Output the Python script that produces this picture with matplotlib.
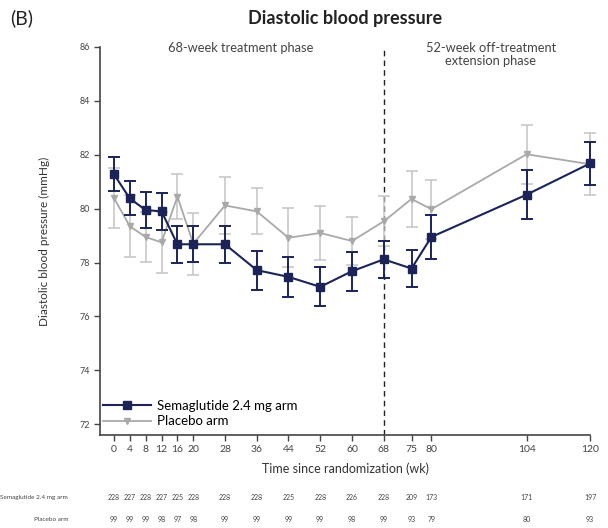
import numpy as np
import matplotlib.pyplot as plt
from matplotlib.lines import Line2D
from matplotlib.transforms import blended_transform_factory

plt.rcParams['font.family'] = ['Lato', 'DejaVu Sans']

weeks = [0, 4, 8, 12, 16, 20, 28, 36, 44, 52, 60, 68, 75, 80, 104, 120]

sema = [81.28, 80.38, 79.95, 79.9, 78.68, 78.68, 78.68, 77.72, 77.47, 77.1, 77.68, 78.12, 77.78, 78.95, 80.52, 81.68]
sema_err = [0.63, 0.63, 0.68, 0.68, 0.68, 0.66, 0.68, 0.72, 0.73, 0.72, 0.72, 0.68, 0.68, 0.8, 0.9, 0.8]

placebo = [80.4, 79.35, 78.95, 78.75, 80.45, 78.7, 80.12, 79.9, 78.92, 79.1, 78.8, 79.53, 80.36, 79.98, 82.02, 81.65]
placebo_err = [1.1, 1.15, 0.92, 1.12, 0.85, 1.15, 1.05, 0.85, 1.1, 1.0, 0.9, 0.93, 1.05, 1.1, 1.1, 1.15]

xtick_labels = ['0', '4', '8', '12', '16', '20', '28', '36', '44', '52', '60', '68', '75', '80', '104', '120']
yticks = [72, 74, 76, 78, 80, 82, 84, 86]

n_sema = [228, 227, 228, 227, 225, 228, 228, 228, 225, 228, 226, 228, 209, 173, 171, 197]
n_placebo = [99, 99, 99, 98, 97, 98, 99, 99, 99, 99, 98, 99, 93, 79, 80, 93]

navy = '#1c2457'
grey = '#a9a9a9'

fig = plt.figure(figsize=(6.08, 5.28), dpi=100)
ax = fig.add_axes([0.1645, 0.176, 0.806, 0.735])

ax.errorbar(weeks, placebo, yerr=placebo_err, color=grey, ecolor='#c4c4c4',
            marker='v', markersize=4, lw=1.3, elinewidth=1.1, capsize=4,
            capthick=1.1, zorder=2, clip_on=False)
ax.errorbar(weeks, sema, yerr=sema_err, color=navy, ecolor=navy,
            marker='s', markersize=6, lw=1.5, elinewidth=1.4, capsize=4,
            capthick=1.4, zorder=3, clip_on=False)

ax.axvline(68, color='#222222', ls=(0, (4, 3)), lw=1.0, zorder=1)

ax.set_xlim(-3.5, 120)
ax.set_ylim(71.6, 86)
ax.set_xticks(weeks)
ax.set_xticklabels(xtick_labels, fontsize=7.5, color='#444444')
ax.set_yticks(yticks)
ax.set_yticklabels([str(v) for v in yticks], fontsize=6.5, color='#444444')
ax.tick_params(axis='both', length=4, width=1, color='#444444')
ax.spines['top'].set_visible(False)
ax.spines['right'].set_visible(False)
ax.spines['left'].set_color('#444444')
ax.spines['bottom'].set_color('#444444')
ax.spines['left'].set_linewidth(1.2)
ax.spines['bottom'].set_linewidth(1.2)

ax.set_ylabel('Diastolic blood pressure (mmHg)', fontsize=8.5, color='#333333', labelpad=21)
ax.set_xlabel('Time since randomization (wk)', fontsize=9, color='#333333', labelpad=6)

ax.text(32, 86.2, '68-week treatment phase', ha='center', va='top', fontsize=9.3, color='#444444')
ax.text(95, 86.2, '52-week off-treatment\nextension phase', ha='center', va='top',
        fontsize=9.3, color='#444444', linespacing=1.1)

handles = [
    Line2D([], [], color=navy, lw=1.5, marker='s', markersize=6),
    Line2D([], [], color=grey, lw=1.3, marker='v', markersize=4),
]
labels = ['Semaglutide 2.4 mg arm', 'Placebo arm']
ax.legend(handles, labels, loc='lower left', bbox_to_anchor=(-0.01, 0.0),
          frameon=False, fontsize=9.5, handlelength=3.6, labelspacing=0.25,
          borderaxespad=0.2, handletextpad=0.5)

fig.text(0.017, 0.965, '(B)', fontsize=14, va='center', color='#222222')
fig.text(0.567, 0.965, 'Diastolic blood pressure', fontsize=13, fontweight='bold',
         ha='center', va='center', color='#222222')

tr = blended_transform_factory(ax.transData, fig.transFigure)
fig.text(0.112, 0.058, 'Semaglutide 2.4 mg arm', fontsize=4.6, ha='right', va='center', color='#444444')
fig.text(0.112, 0.017, 'Placebo arm', fontsize=4.6, ha='right', va='center', color='#444444')
for w, a, b in zip(weeks, n_sema, n_placebo):
    ax.text(w, 0.058, str(a), transform=tr, fontsize=5, ha='center', va='center', color='#444444')
    ax.text(w, 0.017, str(b), transform=tr, fontsize=5, ha='center', va='center', color='#444444')

fig.savefig('out.png', dpi=100)
